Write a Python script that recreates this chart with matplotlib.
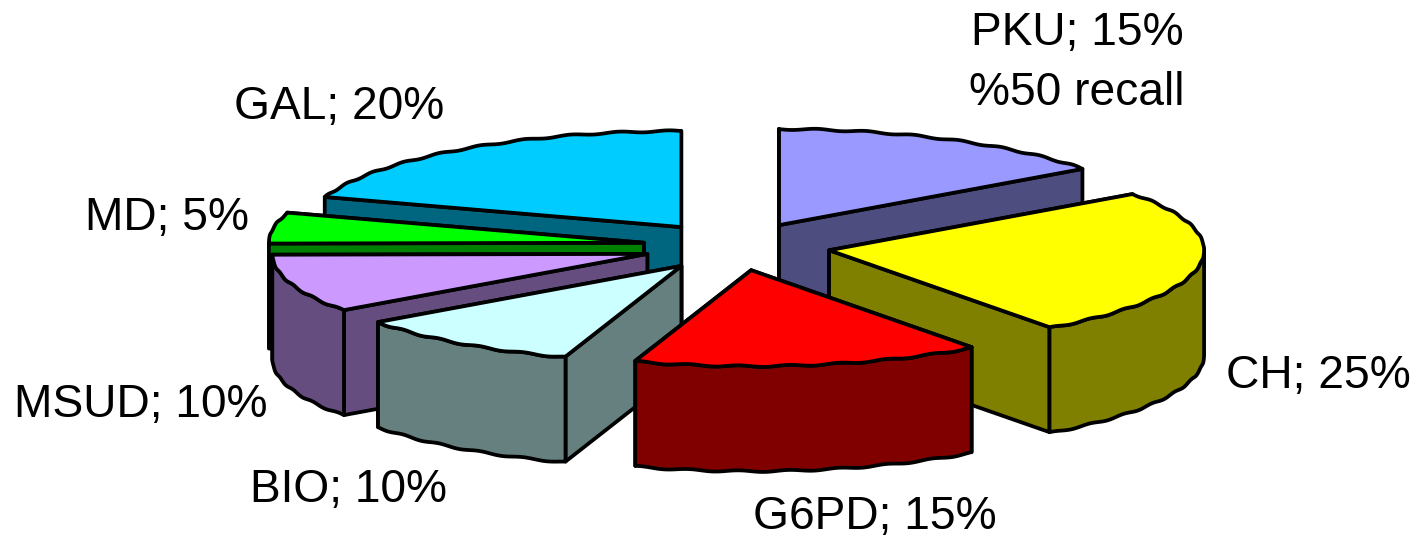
import matplotlib
matplotlib.use("Agg")
import matplotlib.pyplot as plt
import numpy as np

names = ["PKU", "CH", "G6PD", "BIO", "MSUD", "MD", "GAL"]
shares = [15, 25, 15, 10, 10, 5, 20]
top_colors = ["#9999FF", "#FFFF00", "#FF0000", "#CCFFFF", "#CC99FF", "#00FF00", "#00CCFF"]
side_colors = ["#4D4D80", "#808000", "#800000", "#668080", "#664D80", "#008000", "#006680"]
extra_lines = {"PKU": "%50 recall"}

# label anchor points, in figure pixels
label_pos = {
    "PKU": (1077, 11), "CH": (1318, 376), "G6PD": (875, 517), "BIO": (348, 490),
    "MSUD": (141, 405), "MD": (167, 218), "GAL": (339, 107),
}
paint_order = ["GAL", "PKU", "MD", "CH", "MSUD", "BIO", "G6PD"]

# pie geometry
center = (736.5, 246.5)
rx, ry = 375, 96
depth = 105
explode = 0.25
line_w = 2.7
ripple = 0.8

def arc(cx, cy, a0, a1):
    # angles are degrees clockwise from twelve o'clock, rim is slightly scalloped
    n = max(int(a1 - a0) * 2, 2)
    deg = np.linspace(a0, a1, n)
    t = np.radians(deg)
    wobble = ripple * np.sin(np.radians(deg * 47))
    return np.column_stack([cx + rx * np.sin(t), cy - ry * np.cos(t) + wobble])

def wall(ax, pts, color):
    lowered = pts[::-1] + [0, depth]
    ax.fill(*np.vstack([pts, lowered]).T, facecolor=color, edgecolor="black",
            linewidth=line_w, joinstyle="round")

fig = plt.figure(figsize=(14.19, 5.37), dpi=100)
ax = fig.add_axes([0, 0, 1, 1])
ax.set_xlim(0, 1419)
ax.set_ylim(537, 0)
ax.axis("off")

edges = np.cumsum([0] + shares) * 3.6
slices = {}
for i, name in enumerate(names):
    slices[name] = (edges[i], edges[i + 1], top_colors[i], side_colors[i])

for name in paint_order:
    a0, a1, top, side = slices[name]
    mid = np.radians((a0 + a1) / 2)
    cx = center[0] + explode * rx * np.sin(mid)
    cy = center[1] - explode * ry * np.cos(mid)
    apex = np.array([[cx, cy]])
    outer = arc(cx, cy, a0, a1)

    # back radial wall, front radial wall, rim facing the viewer, then the top
    radial = sorted([outer[:1], outer[-1:]], key=lambda p: p[0, 1])
    for end in radial:
        wall(ax, np.vstack([apex, end]), side)
    lo, hi = max(a0, 90), min(a1, 270)
    if lo < hi:
        wall(ax, arc(cx, cy, lo, hi), side)
    ax.fill(*np.vstack([apex, outer]).T, facecolor=top, edgecolor="black",
            linewidth=line_w, joinstyle="round")

for name, share in zip(names, shares):
    x, y = label_pos[name]
    text = f"{name}; {share}%"
    if name in extra_lines:
        text += "\n" + extra_lines[name]
    va = "top" if name in extra_lines else "center"
    ax.text(x, y, text, ha="center", va=va, fontsize=33.2,
            family="Liberation Sans", color="black", linespacing=1.47)

fig.savefig("out.png", dpi=100)
